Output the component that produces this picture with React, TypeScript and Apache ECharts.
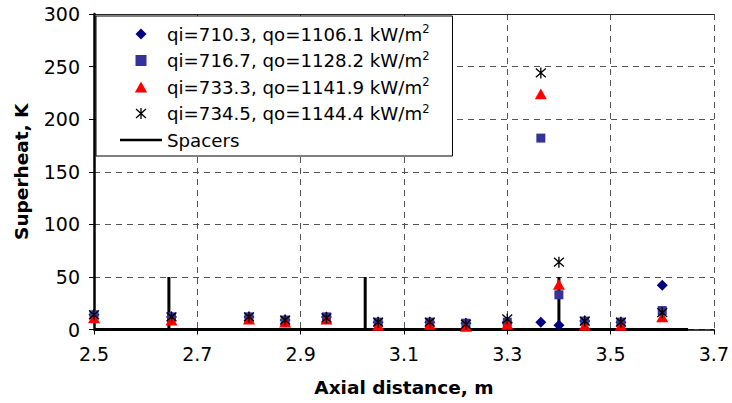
import React, { useEffect, useRef } from "react";
import * as echarts from "echarts";

// Axial positions of thermocouples (m)
const positions = [2.5, 2.65, 2.8, 2.87, 2.95, 3.05, 3.15, 3.22, 3.3, 3.365, 3.4, 3.45, 3.52, 3.6];

const seriesNames = [
  "qi=710.3, qo=1106.1 kW/m2",
  "qi=716.7, qo=1128.2 kW/m2",
  "qi=733.3, qo=1141.9 kW/m2",
  "qi=734.5, qo=1144.4 kW/m2",
];

// Superheat values (K)
const s1 = [14, 12, 12, 9, 12, 7, 7, 6, 7, 7, 4, 8, 7, 42];
const s2 = [14, 12, 12, 9, 12, 7, 7, 6, 7, 182, 33, 8, 7, 18];
const s3 = [11, 9, 10, 7, 10, 4, 5, 3, 5, 224, 43, 4, 4, 12];
const s4 = [14, 12, 12, 9, 11, 7, 7, 5, 10, 244, 64, 8, 7, 16];

// Spacer locations (m) and their drawn height (K)
const spacerPositions = [2.645, 3.025, 3.4];
const spacerHeight = 50;
const spacerBaseline = [2.5, 3.65];

const xTicks = { min: 2.5, max: 3.7, interval: 0.2 };
const yTicks = { min: 0, max: 300, interval: 50 };

const DIAMOND = "path://M5 0L10 5L5 10L0 5Z";
const SQUARE = "path://M0 0L10 0L10 10L0 10Z";
const TRIANGLE = "path://M5 0L10 9L0 9Z";
const ASTERISK =
  "path://M4.4 0L5.6 0L5.6 10L4.4 10Z M0.9 0.55L9.9 8.55L9.1 9.45L0.1 1.45Z M0.1 8.55L9.1 0.55L9.9 1.45L0.9 9.45Z";
const LINE_ICON = "path://M0 0L42 0L42 2.5L0 2.5Z";

const FONT = "'DejaVu Sans', 'Liberation Sans', Arial, sans-serif";

export default function App() {
  const ref = useRef<HTMLDivElement>(null);

  useEffect(() => {
    if (!ref.current) return;
    const chart = echarts.init(ref.current, undefined, { renderer: "svg" });

    const pairs = (vals: number[]) => positions.map((x, i) => [x, vals[i]]);

    const spacerData: number[][] = [[spacerBaseline[0], 0]];
    spacerPositions.forEach((p) => {
      spacerData.push([p, 0], [p, spacerHeight], [p, 0]);
    });
    spacerData.push([spacerBaseline[1], 0]);

    const markerDefs = [
      { symbol: DIAMOND, size: 11, color: "#000080" },
      { symbol: SQUARE, size: 9, color: "#333399" },
      { symbol: TRIANGLE, size: 12, color: "#ff0000" },
      { symbol: ASTERISK, size: 11, color: "#000000" },
    ];
    const allVals = [s1, s2, s3, s4];

    const scatterSeries = seriesNames.map((name, i) => ({
      name,
      type: "scatter",
      data: pairs(allVals[i]),
      symbol: markerDefs[i].symbol,
      symbolSize: markerDefs[i].size,
      symbolKeepAspect: true,
      itemStyle: { color: markerDefs[i].color, opacity: 1 },
      z: 3 + i,
    }));

    chart.setOption({
      animation: false,
      backgroundColor: "#ffffff",
      grid: { left: 94, right: 17, top: 14, bottom: 73.5, containLabel: false },
      legend: {
        orient: "vertical",
        left: 96,
        top: 16,
        padding: [7, 23, 5, 24],
        itemWidth: 42,
        itemHeight: 11,
        itemGap: 4.5,
        symbolKeepAspect: true,
        backgroundColor: "#ffffff",
        borderColor: "#000000",
        borderWidth: 1,
        borderRadius: 0,
        z: 10,
        data: [...seriesNames, { name: "Spacers", icon: LINE_ICON, itemStyle: { color: "#000" } }],
        formatter: (name: string) => name.replace(/m2$/, "m{sup|2}"),
        textStyle: {
          fontFamily: FONT,
          fontSize: 18.2,
          color: "#000",
          lineHeight: 22,
          rich: {
            sup: { fontFamily: FONT, fontSize: 11.5, color: "#000", verticalAlign: "top", lineHeight: 12 },
          },
        },
      },
      xAxis: [
        {
          type: "value",
          min: xTicks.min,
          max: xTicks.max,
          interval: xTicks.interval,
          name: "Axial distance, m",
          nameLocation: "middle",
          nameGap: 48,
          nameTextStyle: { fontFamily: FONT, fontSize: 18.5, fontWeight: "bold", color: "#000" },
          axisLine: { show: true, onZero: false, lineStyle: { color: "#000", width: 1.5 } },
          axisTick: { show: true, inside: false, length: 5, lineStyle: { color: "#000", width: 1 } },
          axisLabel: {
            fontFamily: FONT,
            fontSize: 19,
            color: "#000",
            margin: 15,
            formatter: (v: number) => v.toFixed(1),
          },
          splitLine: { show: true, lineStyle: { color: "#555", type: [6, 5], width: 1 } },
        },
        {
          type: "value",
          position: "top",
          min: xTicks.min,
          max: xTicks.max,
          axisLine: { show: true, onZero: false, lineStyle: { color: "#222", width: 1 } },
          axisTick: { show: false },
          axisLabel: { show: false },
          splitLine: { show: false },
        },
      ],
      yAxis: {
        type: "value",
        min: yTicks.min,
        max: yTicks.max,
        interval: yTicks.interval,
        name: "Superheat, K",
        nameLocation: "middle",
        nameGap: 63,
        nameRotate: 90,
        nameTextStyle: { fontFamily: FONT, fontSize: 18.5, fontWeight: "bold", color: "#000" },
        axisLine: { show: true, onZero: false, lineStyle: { color: "#000", width: 2.5 } },
        axisTick: { show: true, inside: false, length: 5, lineStyle: { color: "#000", width: 1 } },
        axisLabel: { fontFamily: FONT, fontSize: 19, color: "#000", margin: 14 },
        splitLine: { show: true, lineStyle: { color: "#555", type: [6, 5], width: 1 } },
      },
      series: [
        ...scatterSeries,
        {
          name: "Spacers",
          type: "line",
          data: spacerData,
          symbol: "none",
          showSymbol: false,
          lineStyle: { color: "#000", width: 3 },
          itemStyle: { color: "#000" },
          z: 2,
        },
      ],
    });

    return () => chart.dispose();
  }, []);

  return <div ref={ref} style={{ width: 732, height: 403, position: "absolute", left: 0, top: 0 }} />;
}
